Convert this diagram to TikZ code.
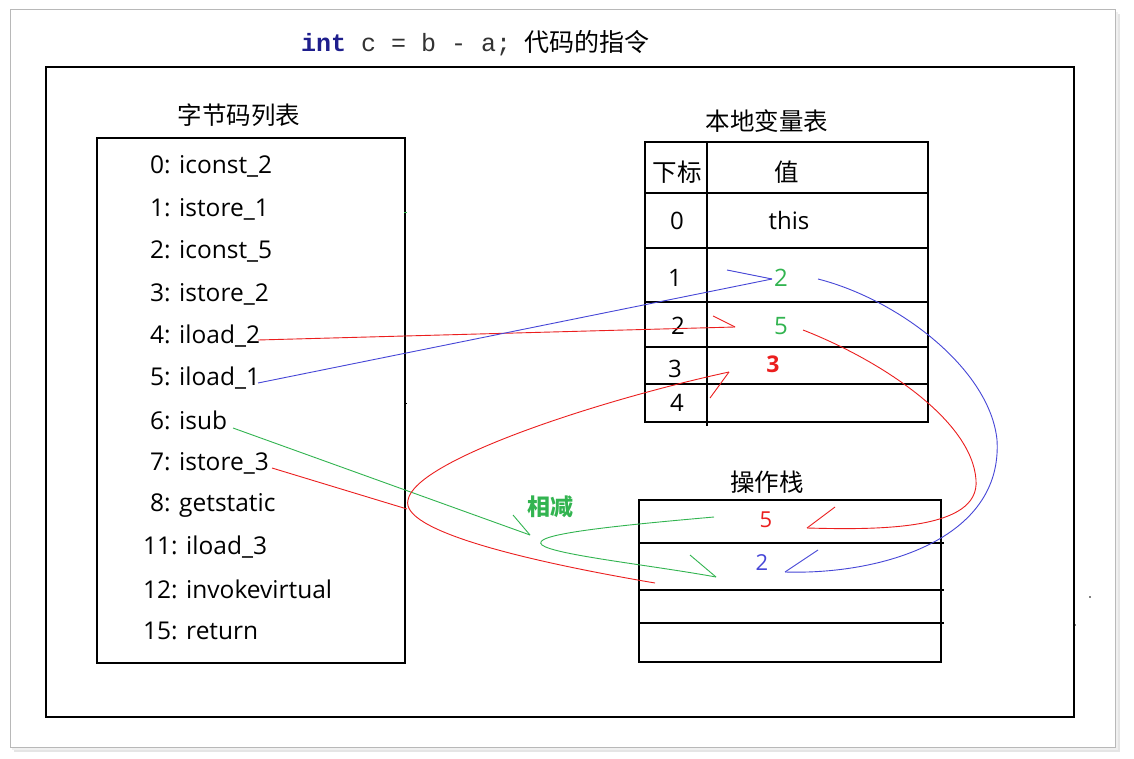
\documentclass[tikz,border=0pt]{standalone}
\usepackage{fontspec}
\setmainfont{Open Sans}
\newfontfamily\cjk{Noto Sans CJK SC}
\newfontfamily\mono{Liberation Mono}
\definecolor{gr}{RGB}{50,180,80}
\definecolor{rd}{RGB}{235,30,30}
\definecolor{bl}{RGB}{70,70,215}
\definecolor{navy}{RGB}{30,30,140}
\begin{document}
\begin{tikzpicture}[x=1pt,y=-1pt,
  box/.style={draw=black,line width=1.3pt},
  rule/.style={draw=black,line width=1.2pt},
  item/.style={anchor=west,inner sep=0pt,font=\fontsize{24.5}{24.5}\selectfont},
  cell/.style={inner sep=0pt,font=\fontsize{24}{24}\selectfont},
  ttl/.style={inner sep=0pt,font=\cjk\fontsize{24.5}{24.5}\selectfont},
  arr/.style={line width=0.9pt},
  barb/.style={line width=0.9pt}]
\useasboundingbox (0,0) rectangle (1134,759);
\fill[white] (0,0) rectangle (1134,759);
% outer frame with shadow
\fill[black!10] (14,14) rectangle (1120,752);
\fill[black!6] (12,12) rectangle (1118,750);
\draw[black!28,line width=1pt,fill=white] (10,10) rectangle (1115,747);
% inner frame
\draw[box] (46,67) rectangle (1074,717);
% title
\node[anchor=base west,inner sep=0pt] (title) at (301,52)
  {\mono\fontsize{25}{25}\selectfont\textcolor{navy}{\textbf{int}}\hspace{0.6em}\textcolor{black!80}{c\hspace{0.6em}=\hspace{0.6em}b\hspace{0.6em}-\hspace{0.6em}a;}\hspace{0.55em}{\cjk\fontsize{25}{25}\selectfont 代码的指令}};

% bytecode list
\node[ttl] (bctitle) at (239,115) {字节码列表};
\draw[box] (97,138) rectangle (405,663);
\node[item] (b0) at (150,166) {0: iconst\_2};
\node[item] (b1) at (150,209) {1: istore\_1};
\node[item] (b2) at (150,251) {2: iconst\_5};
\node[item] (b3) at (150,294) {3: istore\_2};
\node[item] (b4) at (150,336) {4: iload\_2};
\node[item] (b5) at (150,378) {5: iload\_1};
\node[item] (b6) at (150,420) {6: isub};
\node[item] (b7) at (150,463) {7: istore\_3};
\node[item] (b8) at (150,505) {8: getstatic};
\node[item] (b11) at (143,547) {11: iload\_3};
\node[item] (b12) at (143,589) {12: invokevirtual};
\node[item] (b15) at (143,631) {15: return};

% local variable table
\node[ttl] (lvtitle) at (767,121) {本地变量表};
\draw[box] (645,142) rectangle (928,422);
\draw[rule] (707,142) -- (707,426);
\foreach \yy in {193,248,302,347,384} \draw[rule] (645,\yy) -- (928,\yy);
\node[ttl] (hidx) at (677,172) {下标};
\node[ttl] (hval) at (787,172) {值};
\node[cell] (i0) at (677,221) {0};
\node[cell] (v0) at (789,221) {this};
\node[cell] (i1) at (675,278) {1};
\node[cell,text=gr] (v1) at (781,278) {2};
\node[cell] (i2) at (678,326) {2};
\node[cell,text=gr] (v2) at (781,326) {5};
\node[cell] (i3) at (675,369) {3};
\node[cell,text=rd,font=\fontsize{23}{23}\selectfont\bfseries] (v3) at (773,364) {3};
\node[cell] (i4) at (677,403) {4};

% operand stack
\node[ttl] (ostitle) at (767,482) {操作栈};
\draw[box] (639,500) rectangle (941,662);
\foreach \yy in {543,590,623} \draw[rule] (639,\yy) -- (944,\yy);
\node[cell,text=rd,font=\fontsize{22}{22}\selectfont] (s5) at (766,520) {5};
\node[cell,text=bl,font=\fontsize{22}{22}\selectfont] (s2) at (762,563) {2};

% label
\node[inner sep=0pt,text=gr,font=\cjk\fontsize{23}{23}\selectfont\bfseries] (sub) at (550,507) {相减};

% connector end points
\coordinate (p4) at (258,340);
\coordinate (p5) at (258,383);
\coordinate (p6) at (233,428);
\coordinate (p7) at (272,468);
\coordinate (t2) at (735,327);
\coordinate (t1) at (772,279);
\coordinate (f1) at (818,279);
\coordinate (f2) at (803,330);
\coordinate (t5) at (807,528);
\coordinate (t2s) at (785,572);
\coordinate (edge) at (407,509);
\coordinate (g1) at (530,535);
\coordinate (g2a) at (714,517);
\coordinate (g2b) at (716,577);
\coordinate (r3a) at (655,583);
\coordinate (r3b) at (729,372);

% red: iload_2 -> local 2
\draw[arr,rd] (p4) -- (t2);
\draw[barb,rd] (713,316) -- (t2);
% blue: iload_1 -> local 1
\draw[arr,bl] (p5) -- (t1);
\draw[barb,bl] (727,270) -- (t1);
% blue: local 1 -> stack
\draw[arr,bl] (f1) .. controls (900,300) and (990,370) .. (997,440)
  .. controls (1003,540) and (880,575) .. (t2s);
\draw[barb,bl] (818,550) -- (t2s);
% red: local 2 -> stack
\draw[arr,rd] (f2) .. controls (880,360) and (972,420) .. (976,480)
  .. controls (980,530) and (880,530) .. (t5);
\draw[barb,rd] (835,507) -- (t5);
% green: isub
\draw[arr,gr] (p6) -- (g1);
\draw[barb,gr] (513,515) -- (g1);
\draw[arr,gr] (g2a) .. controls (600,527) and (530,535) .. (542,545)
  .. controls (555,555) and (650,565) .. (g2b);
\draw[barb,gr] (690,555) -- (g2b);
% red: istore_3
\draw[arr,rd] (p7) -- (edge);
\draw[arr,rd] (r3a) .. controls (520,560) and (400,530) .. (408,500)
  .. controls (415,460) and (600,400) .. (r3b);
\draw[barb,rd] (710,398) -- (r3b);

% small stray marks
\draw[gr,line width=1pt] (404,213) -- (407,213);
\draw[black,line width=1pt] (404,403) -- (407,403);
\fill[black] (1090,597) circle (0.8);
\fill[black] (1075,625) circle (0.8);
\end{tikzpicture}
\end{document}
